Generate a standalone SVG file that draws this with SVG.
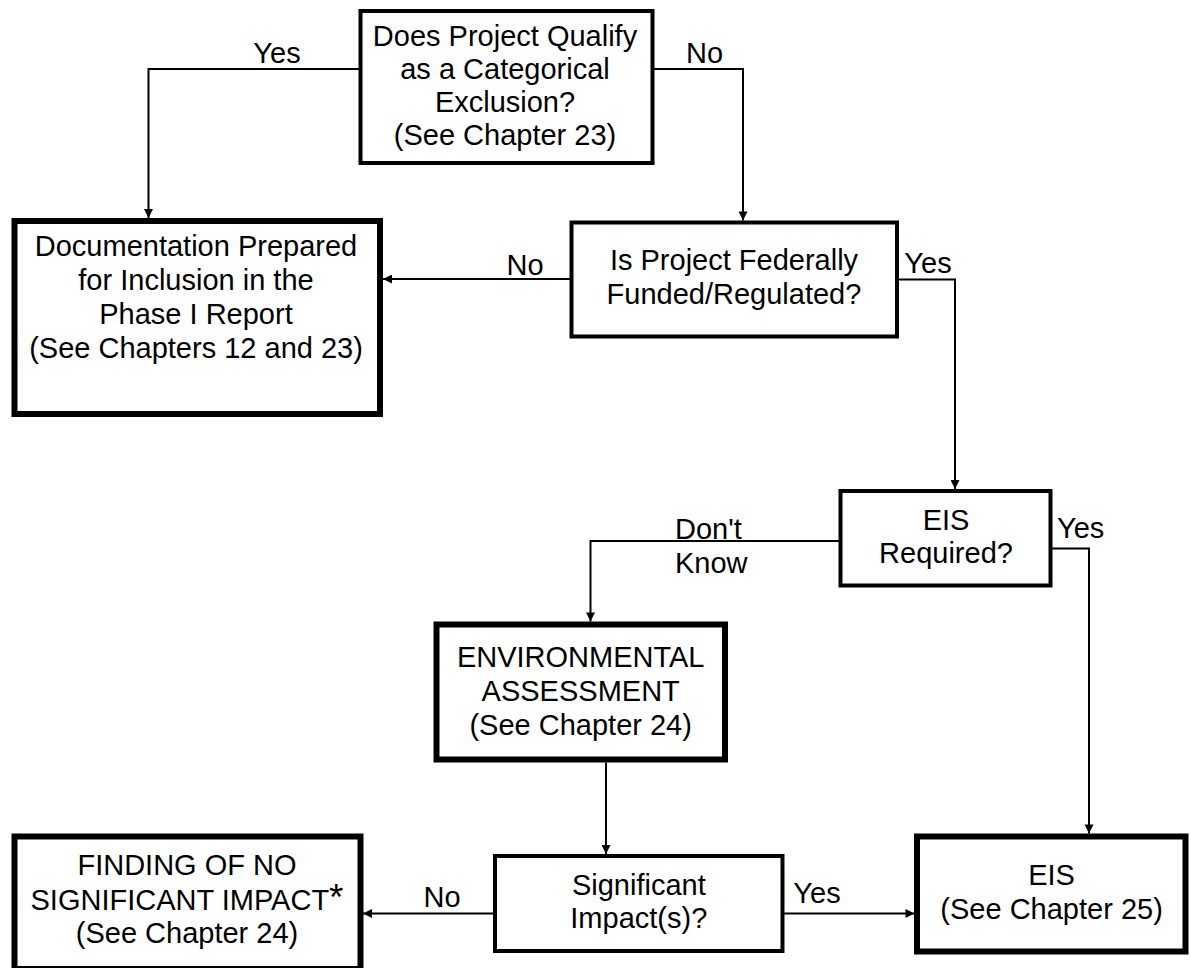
<svg xmlns="http://www.w3.org/2000/svg" width="1190" height="968" viewBox="0 0 1190 968">
<style>
  .box { fill: #fff; stroke: #000; }
  .thin { stroke-width: 4; }
  .thick { stroke-width: 6; }
  text { font-family: "Liberation Sans", Arial, sans-serif; font-size: 29px; fill: #000; }
  .c { text-anchor: middle; }
  .conn { fill: none; stroke: #000; stroke-width: 2; }
</style>
<defs>
  <marker id="ah" viewBox="0 0 10 10" refX="10" refY="5" markerWidth="10" markerHeight="9" markerUnits="userSpaceOnUse" orient="auto">
    <path d="M0,0 L10,5 L0,10 z" fill="#000"/>
  </marker>
</defs>
<rect width="1190" height="968" fill="#fff"/>

<g id="connectors">
  <polyline class="conn" points="360.5,69 148.5,69 148.5,218" marker-end="url(#ah)"/>
  <polyline class="conn" points="652.5,69 743,69 743,220.5" marker-end="url(#ah)"/>
  <polyline class="conn" points="571.5,279 383,279" marker-end="url(#ah)"/>
  <polyline class="conn" points="897,279.5 955,279.5 955,489" marker-end="url(#ah)"/>
  <polyline class="conn" points="841,541 590.5,541 590.5,621.5" marker-end="url(#ah)"/>
  <polyline class="conn" points="1052,548.5 1089,548.5 1089,833.5" marker-end="url(#ah)"/>
  <polyline class="conn" points="606,762.5 606,854" marker-end="url(#ah)"/>
  <polyline class="conn" points="495,913.5 363,913.5" marker-end="url(#ah)"/>
  <polyline class="conn" points="782.5,913.5 914.5,913.5" marker-end="url(#ah)"/>
  <text class="c" x="277" y="63">Yes</text>
  <text class="c" x="704.5" y="63">No</text>
  <text class="c" x="525" y="275">No</text>
  <text class="c" x="928" y="273">Yes</text>
  <text x="675" y="539">Don't</text>
  <text x="675" y="573">Know</text>
  <text x="1057" y="538">Yes</text>
  <text class="c" x="442" y="907">No</text>
  <text class="c" x="817" y="903">Yes</text>
</g>

<g id="q-categorical">
  <rect class="box thin" x="360.5" y="11" width="292" height="152"/>
  <text class="c" x="505" y="46">Does Project Qualify</text>
  <text class="c" x="505" y="79">as a Categorical</text>
  <text class="c" x="505" y="112">Exclusion?</text>
  <text class="c" x="505" y="145">(See Chapter 23)</text>
</g>

<g id="documentation">
  <rect class="box thick" x="14.5" y="221" width="365.5" height="193"/>
  <text class="c" x="196" y="256">Documentation Prepared</text>
  <text class="c" x="196" y="290">for Inclusion in the</text>
  <text class="c" x="196" y="324">Phase I Report</text>
  <text class="c" x="196" y="358">(See Chapters 12 and 23)</text>
</g>

<g id="q-federal">
  <rect class="box thin" x="571.5" y="222.5" width="325.5" height="114"/>
  <text class="c" x="734" y="270">Is Project Federally</text>
  <text class="c" x="734" y="304">Funded/Regulated?</text>
</g>

<g id="q-eis-required">
  <rect class="box thin" x="840.5" y="491" width="210" height="94.5"/>
  <text class="c" x="946" y="530">EIS</text>
  <text class="c" x="946" y="563">Required?</text>
</g>

<g id="environmental-assessment">
  <rect class="box thick" x="436.5" y="624.5" width="288.5" height="135"/>
  <text class="c" x="580.7" y="667">ENVIRONMENTAL</text>
  <text class="c" x="580.7" y="701">ASSESSMENT</text>
  <text class="c" x="580.7" y="735">(See Chapter 24)</text>
</g>

<g id="q-significant">
  <rect class="box thin" x="495" y="856" width="287.5" height="95"/>
  <text class="c" x="638.8" y="895">Significant</text>
  <text class="c" x="638.8" y="928">Impact(s)?</text>
</g>

<g id="fonsi">
  <rect class="box thick" x="14.5" y="836.5" width="346" height="132.5"/>
  <text class="c" x="187" y="875">FINDING OF NO</text>
  <text class="c" x="187" y="910">SIGNIFICANT IMPACT<tspan font-size="37">*</tspan></text>
  <text class="c" x="187" y="943">(See Chapter 24)</text>
</g>

<g id="eis">
  <rect class="box thick" x="917" y="836.5" width="268.5" height="115"/>
  <text class="c" x="1051.6" y="885">EIS</text>
  <text class="c" x="1051.6" y="918.5">(See Chapter 25)</text>
</g>
</svg>
